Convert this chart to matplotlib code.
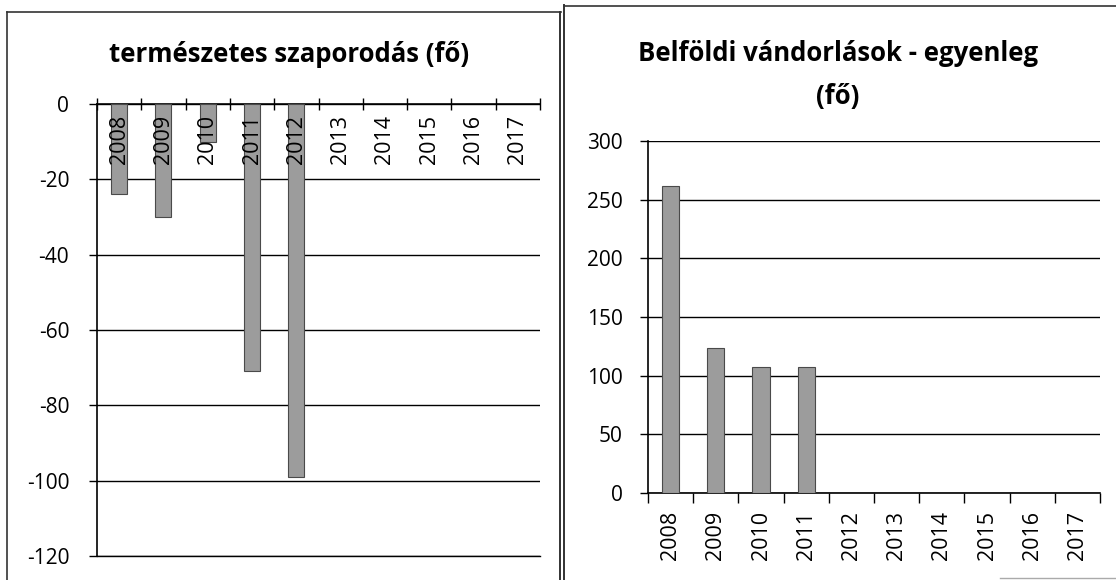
import numpy as np
import matplotlib
matplotlib.use("Agg")
import matplotlib.pyplot as plt
from matplotlib.lines import Line2D
import matplotlib.transforms as mtransforms

years = ["2008", "2009", "2010", "2011", "2012", "2013", "2014", "2015", "2016", "2017"]
natural_growth = [-24, -30, -10, -71, -99, np.nan, np.nan, np.nan, np.nan, np.nan]
internal_migration = [262, 124, 107, 107, np.nan, np.nan, np.nan, np.nan, np.nan, np.nan]

title_left = "természetes szaporodás (fő)"
title_right = "Belföldi vándorlások - egyenleg\n(fő)"

FONT = "Open Sans"
plt.rcParams["font.family"] = [FONT, "DejaVu Sans"]
plt.rcParams["axes.unicode_minus"] = False

W, H = 1116, 580
fig = plt.figure(figsize=(W / 100, H / 100), dpi=100)
fig.patch.set_facecolor("white")

def px_axes(x0, y0, x1, y1):
    return fig.add_axes([x0 / W, 1 - y1 / H, (x1 - x0) / W, (y1 - y0) / H])

bar_color = "#9c9c9c"
edge_color = "#4a4a4a"
x = np.arange(len(years))
TICK_FS = 15
YEAR_FS = 15.5
TITLE_FS = 18.5

# ---------- Left chart ----------
axL = px_axes(97, 104, 540, 556)
axL.bar(x, natural_growth, width=0.36, color=bar_color, edgecolor=edge_color, linewidth=0.8, zorder=3)
axL.set_xlim(-0.5, len(years) - 0.5)
axL.set_ylim(-120, 0)
axL.set_yticks(np.arange(-120, 1, 20))
axL.yaxis.grid(True, color="black", linewidth=1.0, zorder=0)
axL.spines["right"].set_visible(False)
axL.spines["bottom"].set_linewidth(1.0)
axL.spines["left"].set_linewidth(1.2)
axL.spines["top"].set_linewidth(1.2)
axL.xaxis.set_ticks_position("top")
axL.set_xticks(np.arange(-0.5, len(years), 1.0))
axL.set_xticklabels([])
axL.tick_params(axis="x", direction="inout", length=8, width=1.0)
axL.tick_params(axis="y", direction="out", length=6, width=1.0, labelsize=TICK_FS, pad=14)
trans = mtransforms.offset_copy(axL.transData, fig=fig, x=0, y=-8, units="points")
for xi, lab in zip(x, years):
    axL.text(xi, 0, lab, rotation=90, ha="center", va="top", fontsize=YEAR_FS,
             transform=trans, zorder=4)
fig.text(289 / W, 1 - 55 / H, title_left, ha="center", va="center",
         fontsize=TITLE_FS, fontweight="bold")

# ---------- Right chart ----------
axR = px_axes(648, 141, 1100, 493)
axR.bar(x, internal_migration, width=0.38, color=bar_color, edgecolor=edge_color, linewidth=0.8, zorder=3)
axR.set_xlim(-0.5, len(years) - 0.5)
axR.set_ylim(0, 300)
axR.set_yticks(np.arange(0, 301, 50))
axR.yaxis.grid(True, color="black", linewidth=1.0, zorder=0)
for s in ["right", "top"]:
    axR.spines[s].set_visible(False)
axR.spines["left"].set_linewidth(1.2)
axR.spines["bottom"].set_linewidth(1.2)
axR.set_xticks(np.arange(-0.5, len(years), 1.0))
axR.set_xticklabels([])
axR.set_xticks(x, minor=True)
axR.set_xticklabels(years, minor=True, rotation=90, fontsize=YEAR_FS)
axR.tick_params(axis="x", which="minor", length=0, pad=13)
axR.tick_params(axis="x", which="major", direction="out", length=7, width=1.0)
axR.tick_params(axis="y", direction="out", length=6, width=1.0, labelsize=TICK_FS, pad=12)
fig.text(838 / W, 1 - 75 / H, title_right, ha="center", va="center",
         fontsize=TITLE_FS, fontweight="bold", linespacing=1.75)

# ---------- Frame lines (scanned page borders) ----------
def line(xs, ys, lw=1.2, color="#333333"):
    fig.add_artist(Line2D([v / W for v in xs], [1 - v / H for v in ys],
                          linewidth=lw, color=color, transform=fig.transFigure))

line([7, 7], [12, 580])
line([7, 561], [12, 12])
line([560, 560], [12, 580], lw=1.4)
line([564, 564], [5, 580], lw=1.4)
line([564, 1116], [6, 6])
line([1000, 1116], [578, 578], lw=1.0, color="#aaaaaa")

fig.savefig("out.png", dpi=100, facecolor="white")
